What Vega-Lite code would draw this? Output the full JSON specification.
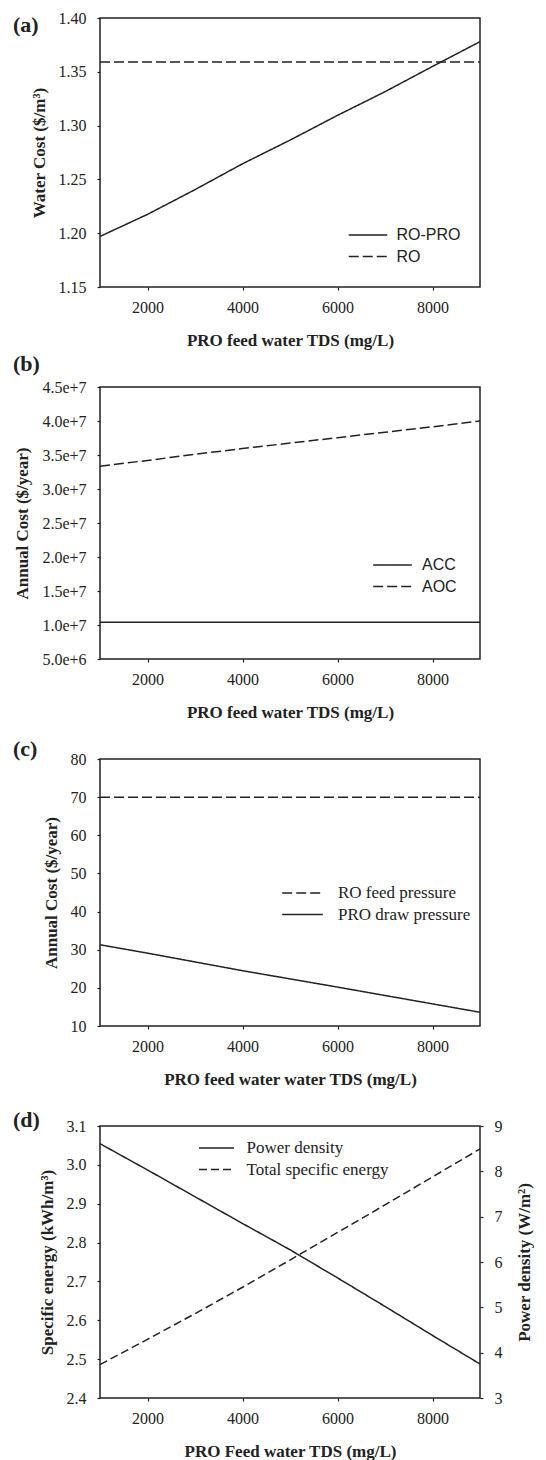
{
  "$schema": "https://vega.github.io/schema/vega-lite/v6.json",
  "padding": {"left": 12, "top": 9, "right": 5, "bottom": 5},
  "bounds": "flush",
  "spacing": 100,
  "resolve": {"scale": {"strokeDash": "independent"}, "legend": {"strokeDash": "independent"}},
  "datasets": {
    "a": [
      {"tds": 1000, "value": 1.197, "series": "RO-PRO"},
      {"tds": 2000, "value": 1.2175, "series": "RO-PRO"},
      {"tds": 3000, "value": 1.2405, "series": "RO-PRO"},
      {"tds": 4000, "value": 1.2645, "series": "RO-PRO"},
      {"tds": 5000, "value": 1.2865, "series": "RO-PRO"},
      {"tds": 6000, "value": 1.3095, "series": "RO-PRO"},
      {"tds": 7000, "value": 1.3315, "series": "RO-PRO"},
      {"tds": 8000, "value": 1.355, "series": "RO-PRO"},
      {"tds": 9000, "value": 1.378, "series": "RO-PRO"},
      {"tds": 1000, "value": 1.359, "series": "RO"},
      {"tds": 3000, "value": 1.359, "series": "RO"},
      {"tds": 5000, "value": 1.359, "series": "RO"},
      {"tds": 7000, "value": 1.359, "series": "RO"},
      {"tds": 9000, "value": 1.359, "series": "RO"}
    ],
    "b": [
      {"tds": 1000, "value": 10400000, "series": "ACC"},
      {"tds": 3000, "value": 10400000, "series": "ACC"},
      {"tds": 5000, "value": 10400000, "series": "ACC"},
      {"tds": 7000, "value": 10400000, "series": "ACC"},
      {"tds": 9000, "value": 10400000, "series": "ACC"},
      {"tds": 1000, "value": 33350000, "series": "AOC"},
      {"tds": 2000, "value": 34200000, "series": "AOC"},
      {"tds": 3000, "value": 35100000, "series": "AOC"},
      {"tds": 4000, "value": 35950000, "series": "AOC"},
      {"tds": 5000, "value": 36750000, "series": "AOC"},
      {"tds": 6000, "value": 37550000, "series": "AOC"},
      {"tds": 7000, "value": 38350000, "series": "AOC"},
      {"tds": 8000, "value": 39150000, "series": "AOC"},
      {"tds": 9000, "value": 40000000, "series": "AOC"}
    ],
    "c": [
      {"tds": 1000, "value": 70, "series": "RO feed pressure"},
      {"tds": 3000, "value": 70, "series": "RO feed pressure"},
      {"tds": 5000, "value": 70, "series": "RO feed pressure"},
      {"tds": 7000, "value": 70, "series": "RO feed pressure"},
      {"tds": 9000, "value": 70, "series": "RO feed pressure"},
      {"tds": 1000, "value": 31.3, "series": "PRO draw pressure"},
      {"tds": 2000, "value": 29.1, "series": "PRO draw pressure"},
      {"tds": 3000, "value": 26.8, "series": "PRO draw pressure"},
      {"tds": 4000, "value": 24.5, "series": "PRO draw pressure"},
      {"tds": 5000, "value": 22.35, "series": "PRO draw pressure"},
      {"tds": 6000, "value": 20.2, "series": "PRO draw pressure"},
      {"tds": 7000, "value": 18.0, "series": "PRO draw pressure"},
      {"tds": 8000, "value": 15.8, "series": "PRO draw pressure"},
      {"tds": 9000, "value": 13.6, "series": "PRO draw pressure"}
    ],
    "d_pd": [
      {"tds": 1000, "value": 8.61, "series": "Power density"},
      {"tds": 2000, "value": 8.03, "series": "Power density"},
      {"tds": 3000, "value": 7.44, "series": "Power density"},
      {"tds": 4000, "value": 6.85, "series": "Power density"},
      {"tds": 5000, "value": 6.27, "series": "Power density"},
      {"tds": 6000, "value": 5.65, "series": "Power density"},
      {"tds": 7000, "value": 5.02, "series": "Power density"},
      {"tds": 8000, "value": 4.38, "series": "Power density"},
      {"tds": 9000, "value": 3.75, "series": "Power density"}
    ],
    "d_se": [
      {"tds": 1000, "value": 2.486, "series": "Total specific energy"},
      {"tds": 2000, "value": 2.551, "series": "Total specific energy"},
      {"tds": 3000, "value": 2.617, "series": "Total specific energy"},
      {"tds": 4000, "value": 2.685, "series": "Total specific energy"},
      {"tds": 5000, "value": 2.755, "series": "Total specific energy"},
      {"tds": 6000, "value": 2.826, "series": "Total specific energy"},
      {"tds": 7000, "value": 2.897, "series": "Total specific energy"},
      {"tds": 8000, "value": 2.969, "series": "Total specific energy"},
      {"tds": 9000, "value": 3.041, "series": "Total specific energy"}
    ]
  },
  "vconcat": [
    {
      "width": 380,
      "height": 269,
      "title": {"text": "(a)", "offset": -27},
      "data": {"name": "a"},
      "mark": {"type": "line"},
      "encoding": {
        "x": {"field": "tds", "type": "quantitative", "scale": {"domain": [1000, 9000], "nice": false},
              "axis": {"values": [2000, 4000, 6000, 8000], "format": "d", "title": "PRO feed water TDS (mg/L)"}},
        "y": {"field": "value", "type": "quantitative", "scale": {"domain": [1.15, 1.4], "nice": false, "zero": false},
              "axis": {"values": [1.15, 1.2, 1.25, 1.3, 1.35, 1.4], "format": ".2f", "title": "Water Cost ($/m³)"}},
        "strokeDash": {"field": "series", "type": "nominal",
              "scale": {"domain": ["RO-PRO", "RO"], "range": [[1, 0], [10, 4]]},
              "legend": {"title": null, "orient": "none", "legendX": 248, "legendY": 207, "symbolSize": 1482, "labelOffset": 8.5, "labelFont": "Liberation Sans", "labelFontSize": 16}}
      }
    },
    {
      "width": 380,
      "height": 272,
      "title": {"text": "(b)", "offset": 3},
      "data": {"name": "b"},
      "mark": {"type": "line"},
      "encoding": {
        "x": {"field": "tds", "type": "quantitative", "scale": {"domain": [1000, 9000], "nice": false},
              "axis": {"values": [2000, 4000, 6000, 8000], "format": "d", "title": "PRO feed water TDS (mg/L)"}},
        "y": {"field": "value", "type": "quantitative", "scale": {"domain": [5000000, 45000000], "nice": false, "zero": false},
              "axis": {"values": [5000000, 10000000, 15000000, 20000000, 25000000, 30000000, 35000000, 40000000, 45000000], "format": ".1e", "title": "Annual Cost ($/year)"}},
        "strokeDash": {"field": "series", "type": "nominal",
              "scale": {"domain": ["ACC", "AOC"], "range": [[1, 0], [10, 4]]},
              "legend": {"title": null, "orient": "none", "legendX": 272, "legendY": 168, "symbolSize": 1490, "labelOffset": 9, "labelFont": "Liberation Sans", "labelFontSize": 16}}
      }
    },
    {
      "width": 380,
      "height": 267,
      "title": {"text": "(c)", "offset": -10},
      "data": {"name": "c"},
      "mark": {"type": "line"},
      "encoding": {
        "x": {"field": "tds", "type": "quantitative", "scale": {"domain": [1000, 9000], "nice": false},
              "axis": {"values": [2000, 4000, 6000, 8000], "format": "d", "title": "PRO feed water water TDS (mg/L)"}},
        "y": {"field": "value", "type": "quantitative", "scale": {"domain": [10, 80], "nice": false, "zero": false},
              "axis": {"values": [10, 20, 30, 40, 50, 60, 70, 80], "format": "d", "title": "Annual Cost ($/year)"}},
        "strokeDash": {"field": "series", "type": "nominal",
              "scale": {"domain": ["RO feed pressure", "PRO draw pressure"], "range": [[10, 4], [1, 0]]},
              "legend": {"title": null, "orient": "none", "legendX": 181, "legendY": 124, "symbolSize": 1648, "labelOffset": 14, "labelFont": "Liberation Serif", "labelFontSize": 17}}
      }
    },
    {
      "width": 380,
      "height": 272,
      "title": {"text": "(d)", "offset": -14},
      "resolve": {"scale": {"y": "independent"}},
      "layer": [
        {
          "data": {"name": "d_se"},
          "mark": {"type": "line"},
          "encoding": {
            "x": {"field": "tds", "type": "quantitative", "scale": {"domain": [1000, 9000], "nice": false},
                  "axis": {"values": [2000, 4000, 6000, 8000], "format": "d", "title": "PRO Feed water TDS (mg/L)"}},
            "y": {"field": "value", "type": "quantitative", "scale": {"domain": [2.4, 3.1], "nice": false, "zero": false},
                  "axis": {"values": [2.4, 2.5, 2.6, 2.7, 2.8, 2.9, 3.0, 3.1], "format": ".1f", "title": "Specific energy (kWh/m³)"}},
            "strokeDash": {"field": "series", "type": "nominal",
                  "scale": {"domain": ["Power density", "Total specific energy"], "range": [[1, 0], [8, 4]]},
                  "legend": {"title": null, "orient": "none", "legendX": 98, "legendY": 12, "symbolSize": 1225, "labelOffset": 11.5, "labelFont": "Liberation Serif", "labelFontSize": 17}}
          }
        },
        {
          "data": {"name": "d_pd"},
          "mark": {"type": "line"},
          "encoding": {
            "x": {"field": "tds", "type": "quantitative"},
            "y": {"field": "value", "type": "quantitative", "scale": {"domain": [3, 9], "nice": false, "zero": false},
                  "axis": {"orient": "right", "values": [3, 4, 5, 6, 7, 8, 9], "format": "d", "title": "Power density (W/m²)", "titleAngle": 270, "titleBaseline": "top", "titlePadding": 14}},
            "strokeDash": {"field": "series", "type": "nominal"}
          }
        }
      ]
    }
  ],
  "config": {
    "font": "Liberation Serif",
    "view": {"stroke": "#222", "strokeWidth": 1.5},
    "axis": {"grid": false, "domain": false, "tickSize": 3, "tickColor": "#222", "tickWidth": 1.2,
             "labelFont": "Liberation Serif", "labelFontSize": 16, "labelColor": "#222", "labelPadding": 11,
             "titleFont": "Liberation Serif", "titleFontSize": 17, "titleFontWeight": "bold", "titleColor": "#222", "titlePadding": 10},
    "axisX": {"labelPadding": 9, "titlePadding": 17, "labelFont": "Liberation Serif"},
    "axisY": {"labelFont": "Liberation Serif"},
    "line": {"color": "#222", "strokeWidth": 1.5},
    "legend": {"symbolType": "stroke", "symbolStrokeWidth": 1.5, "symbolStrokeColor": "#222", "labelColor": "#222",
               "clipHeight": 20, "rowPadding": 1.5, "padding": 0},
    "title": {"anchor": "start", "frame": "group", "dx": -87, "fontSize": 22, "font": "Liberation Serif", "fontWeight": "bold", "baseline": "middle", "color": "#222"}
  }
}
